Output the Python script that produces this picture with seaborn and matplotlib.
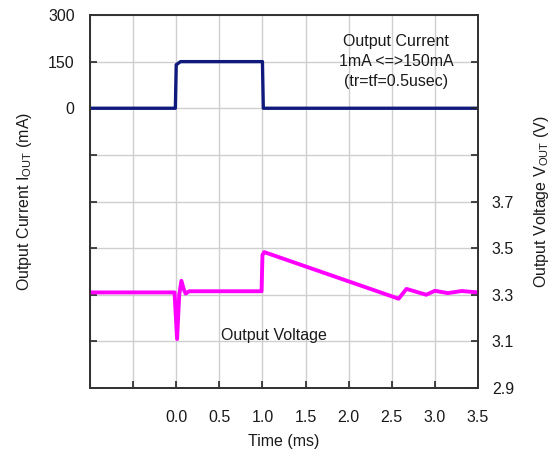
import numpy as np
import pandas as pd
import matplotlib
matplotlib.use("Agg")
import matplotlib.pyplot as plt
import seaborn as sns

# dados
tempo_corrente = [-1.0, -0.01, 0.0, 0.05, 1.0, 1.01, 3.5]
corrente = [0, 0, 140, 150, 150, 0, 0]

tempo_tensao = [-1.0, -0.02, 0.01, 0.035, 0.06, 0.09, 0.11, 0.15, 0.99, 1.0, 1.02,
                2.58, 2.67, 2.90, 3.0, 3.15, 3.31, 3.5]
tensao = [3.31, 3.31, 3.11, 3.30, 3.36, 3.32, 3.305, 3.315, 3.315, 3.47, 3.483,
          3.283, 3.325, 3.30, 3.317, 3.307, 3.316, 3.31]

ticks_x = [-1.0, -0.5, 0.0, 0.5, 1.0, 1.5, 2.0, 2.5, 3.0, 3.5]
rotulos_x = ['', '', '0.0', '0.5', '1.0', '1.5', '2.0', '2.5', '3.0', '3.5']
ticks_i = [-900, -750, -600, -450, -300, -150, 0, 150, 300]
rotulos_i = ['', '', '', '', '', '', '0', '150', '300']
ticks_v = [2.9, 3.1, 3.3, 3.5, 3.7, 3.9, 4.1, 4.3, 4.5]
rotulos_v = ['2.9', '3.1', '3.3', '3.5', '3.7', '', '', '', '']

df_i = pd.DataFrame({'Tempo': tempo_corrente, 'Corrente': corrente})
df_v = pd.DataFrame({'Tempo': tempo_tensao, 'Tensao': tensao})

sns.set_theme(style='white')
plt.rcParams['font.family'] = ['Liberation Sans', 'DejaVu Sans']
plt.rcParams['mathtext.default'] = 'regular'
fs = 11.5
cor_txt = '#1a1a1a'

fig = plt.figure(figsize=(5.56, 4.57), dpi=100)
ax = fig.add_axes([90 / 556, 1 - 388 / 457, 388 / 556, 373 / 457])
ax2 = ax.twinx()

sns.lineplot(data=df_i, x='Tempo', y='Corrente', ax=ax, color='#0f1a7c',
             linewidth=2.4, estimator=None, sort=False)
sns.lineplot(data=df_v, x='Tempo', y='Tensao', ax=ax2, color='#ff00ff',
             linewidth=2.8, estimator=None, sort=False)

ax.set_xlim(-1.0, 3.5)
ax.set_ylim(-900, 300)
ax2.set_ylim(2.9, 4.5)

ax.set_xticks(ticks_x)
ax.set_xticklabels(rotulos_x, fontsize=fs, color=cor_txt)
ax.set_yticks(ticks_i)
ax.set_yticklabels(rotulos_i, fontsize=fs, color=cor_txt)
ax2.set_yticks(ticks_v)
ax2.set_yticklabels(rotulos_v, fontsize=fs, color=cor_txt)

ax.grid(True, color='#cfcfcf', linewidth=1.0)
ax.tick_params(axis='x', direction='in', length=5, width=1.2, pad=16, bottom=True)
ax.tick_params(axis='y', direction='in', length=5, width=1.2, pad=11, left=True)
ax2.tick_params(axis='y', direction='in', length=5, width=1.2, pad=10, right=True)

for a in (ax, ax2):
    for s in a.spines.values():
        s.set_color('#333333')
        s.set_linewidth(1.3)

ax.set_xlabel('Time (ms)', fontsize=fs, color=cor_txt, labelpad=6)
ax.set_ylabel('Output Current I$_{OUT}$ (mA)', fontsize=fs, color=cor_txt, labelpad=10)
ax2.set_ylabel('Output Voltage V$_{OUT}$ (V)', fontsize=fs, color=cor_txt, labelpad=13)

ax.text(2.55, 150, 'Output Current\n1mA <=>150mA\n(tr=tf=0.5usec)', ha='center', va='center',
        fontsize=fs, color=cor_txt, linespacing=1.4)
ax2.text(0.52, 3.127, 'Output Voltage', ha='left', va='center', fontsize=fs, color=cor_txt)

fig.savefig('out.png', dpi=100)
